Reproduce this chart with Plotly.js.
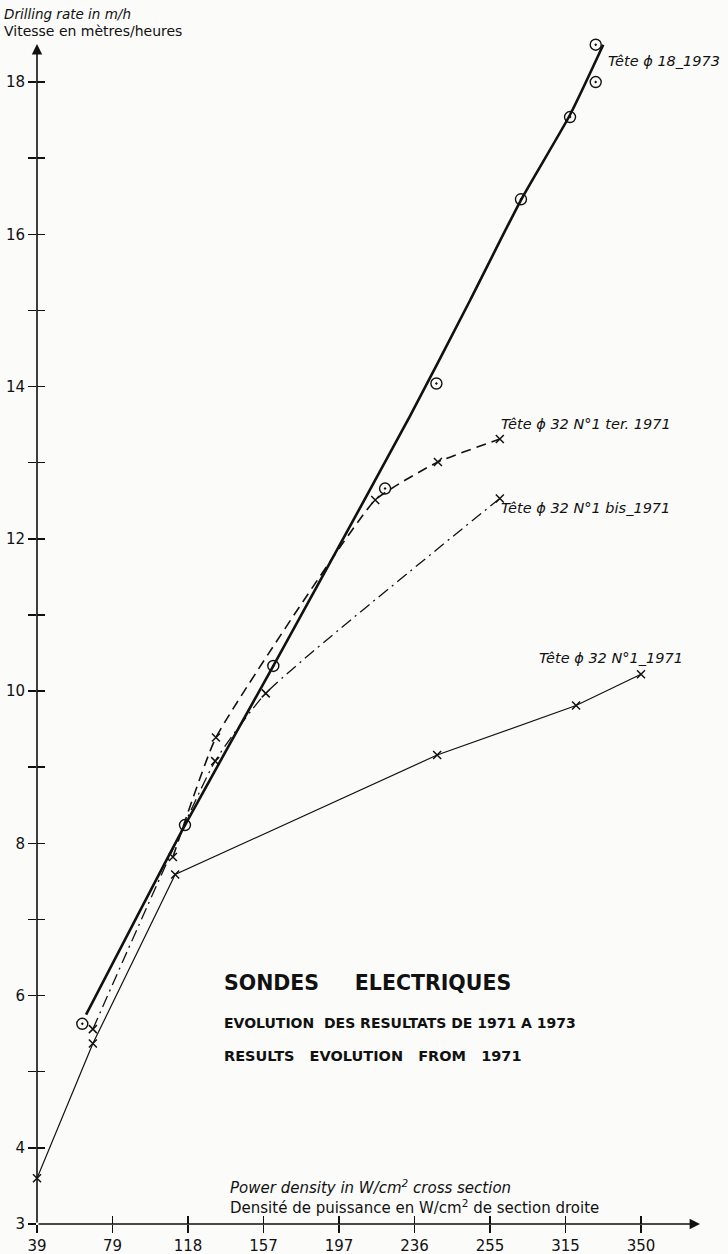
<!DOCTYPE html>
<html><head><meta charset="utf-8">
<script src="https://cdn.plot.ly/plotly-3.0.1.min.js"></script>
<style>html,body{margin:0;padding:0;background:#fbfbfa}</style>
</head><body>
<div id="chart" style="width:728px;height:1254px"></div>
<script>
// ---- data (x in axis-step units: 0 = 39 W/cm2, 1 = 79, ... 8 = 350) ----
const xTickLabels = ['39','79','118','157','197','236','255','315','350'];
const yTickValues = [3,4,6,8,10,12,14,16,18];
const yTickLabels = ['3','4','6','8','10','12','14','16','18'];
const yMinorTicks = [5,7,9,11,13,15,17];

// Tête ϕ 18 - 1973 (measured points)
const t18X = [0.60, 1.96, 3.13, 4.61, 5.29, 6.41, 7.06, 7.40, 7.40];
const t18Y = [5.63, 8.24, 10.33, 12.66, 14.04, 16.46, 17.54, 18.00, 18.49];
// Tête ϕ 18 - 1973 (drawn curve)
const t18CurveX = [0.65, 1.96, 3.13, 4.01, 4.94, 5.74, 6.41, 7.06, 7.50];
const t18CurveY = [5.75, 8.24, 10.33, 11.92, 13.61, 15.14, 16.45, 17.57, 18.49];

// Tête ϕ 32 N°1 ter. 1971
const terX = [1.80, 2.37, 4.48, 5.31, 6.13];
const terY = [7.82, 9.39, 12.51, 13.01, 13.31];
// Tête ϕ 32 N°1 bis 1971
const bisX = [0.74, 2.36, 3.03, 6.13];
const bisY = [5.56, 9.08, 9.97, 12.53];
// Tête ϕ 32 N°1 1971
const n1X = [0.00, 0.74, 1.83, 5.30, 7.14, 8.00];
const n1Y = [3.60, 5.37, 7.59, 9.16, 9.81, 10.22];

// ---- layout helpers ----
const X0 = 37, XU = 75.5, Y18 = 82, YU = 76.1;
const W = 728, H = 1254, MT = 40, MB = 30;
const PW = W - X0, PH = H - MT - MB;
const py = p => 18 - (p - Y18) / YU;          // pixel -> y axis value
const paperX = p => (p - X0) / PW;             // pixel -> paper x
const paperY = p => (H - MB - p) / PH;         // pixel -> paper y

const ink = '#111';
const FONT = 'DejaVu Sans, Liberation Sans, sans-serif';

const traces = [
  {x: n1X, y: n1Y, mode: 'lines+markers', line: {color: ink, width: 1.2},
   marker: {symbol: 'x-thin-open', size: 8, line: {color: ink, width: 1.5}}, cliponaxis: false},
  {x: bisX, y: bisY, mode: 'lines+markers', line: {color: ink, width: 1.3, dash: '12px,5px,2px,5px', shape: 'spline', smoothing: 0.5},
   marker: {symbol: 'x-thin-open', size: 8, line: {color: ink, width: 1.5}}, cliponaxis: false},
  {x: terX, y: terY, mode: 'lines+markers', line: {color: ink, width: 1.6, dash: '10px,6px', shape: 'spline', smoothing: 0.4},
   marker: {symbol: 'x-thin-open', size: 8, line: {color: ink, width: 1.5}}, cliponaxis: false},
  {x: t18CurveX, y: t18CurveY, mode: 'lines', line: {color: ink, width: 2.6, shape: 'spline', smoothing: 0.6}},
  {x: t18X, y: t18Y, mode: 'markers',
   marker: {symbol: 'circle-open-dot', size: 11, color: ink, line: {color: ink, width: 1.4}}, cliponaxis: false},
  {x: [0], y: [3], xaxis: 'x2', yaxis: 'y2', mode: 'markers', marker: {opacity: 0}, hoverinfo: 'skip'}
];

const xr = [0, PW / XU];
const yr = [3, 18 + (Y18 - MT) / YU];
const tickIdx = xTickLabels.map((_, i) => i);

const ann = (t, x, y, size) => ({
  text: t, x: paperX(x), y: paperY(y), xref: 'paper', yref: 'paper', xanchor: 'left', yanchor: 'middle',
  showarrow: false, font: {family: FONT, size: size, color: ink}
});

const nb = n => '\u00a0'.repeat(n);
const tk = {ticklen: 8, tickwidth: 1.5, tickcolor: ink};

const layout = {
  width: W, height: H,
  margin: {l: X0, r: 0, t: MT, b: MB},
  paper_bgcolor: '#fbfbfa', plot_bgcolor: '#fbfbfa',
  showlegend: false,
  font: {family: FONT, color: ink},
  xaxis: Object.assign({range: xr, tickmode: 'array', tickvals: tickIdx, ticktext: xTickLabels,
    ticks: 'outside', showgrid: false, zeroline: false, showline: false,
    tickfont: {family: FONT, size: 15, color: ink}}, tk),
  xaxis2: Object.assign({range: xr, overlaying: 'x', anchor: 'y2', tickmode: 'array', tickvals: tickIdx,
    ticks: 'inside', showticklabels: false, showgrid: false, zeroline: false, showline: false}, tk),
  yaxis: Object.assign({range: yr, tickmode: 'array', tickvals: yTickValues, ticktext: yTickLabels,
    ticks: 'outside', showgrid: false, zeroline: false, showline: false,
    minor: Object.assign({tickmode: 'array', tickvals: yMinorTicks, ticks: 'outside', showgrid: false}, tk),
    tickfont: {family: FONT, size: 15, color: ink}}, tk),
  yaxis2: Object.assign({range: yr, overlaying: 'y', anchor: 'x2', side: 'left', tickmode: 'array', tickvals: yTickValues,
    ticks: 'inside', showticklabels: false, showgrid: false, zeroline: false, showline: false,
    minor: Object.assign({tickmode: 'array', tickvals: yMinorTicks, ticks: 'inside', showgrid: false}, tk)}, tk),
  annotations: [
    // axis lines with arrowheads
    {x: (700 - X0) / XU, y: 3, ax: 0, ay: 3, axref: 'x', ayref: 'y', xref: 'x', yref: 'y', text: '',
     showarrow: true, arrowhead: 2, arrowsize: 1.3, arrowwidth: 1.6, arrowcolor: ink, standoff: 0, startstandoff: 0},
    {x: 0, y: py(44), ax: 0, ay: 3, axref: 'x', ayref: 'y', xref: 'x', yref: 'y', text: '',
     showarrow: true, arrowhead: 2, arrowsize: 1.3, arrowwidth: 1.6, arrowcolor: ink, standoff: 0, startstandoff: 0},
    // axis titles
    ann('<i>Drilling rate in m/h</i>', 2, 14, 13.5),
    ann('Vitesse en mètres/heures', 2, 31, 14),
    ann('<i>Power density in W/cm<sup>2</sup> cross section</i>', 228, 1187, 15),
    ann('Densité de puissance en W/cm<sup>2</sup> de section droite', 228, 1207, 15),
    // series labels
    ann('<i>Tête ϕ 18_1973</i>', 606, 61, 14.5),
    ann('<i>Tête ϕ 32 N°1 ter. 1971</i>', 499, 424, 14.5),
    ann('<i>Tête ϕ 32 N°1 bis_1971</i>', 499, 508, 14.5),
    ann('<i>Tête ϕ 32 N°1_1971</i>', 537, 658, 14.5),
    // title block
    ann('<b>SONDES' + nb(5) + 'ELECTRIQUES</b>', 222, 983, 20.5),
    ann('<b>EVOLUTION' + nb(2) + 'DES RESULTATS DE 1971 A 1973</b>', 222, 1023, 14),
    ann('<b>RESULTS' + nb(3) + 'EVOLUTION' + nb(3) + 'FROM' + nb(3) + '1971</b>', 222, 1056, 14.5)
  ]
};

Plotly.newPlot('chart', traces, layout, {staticPlot: true, displayModeBar: false});
</script>
</body></html>
